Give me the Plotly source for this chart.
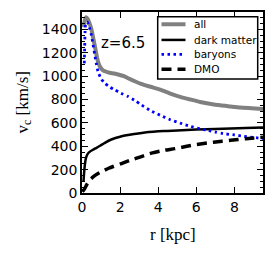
import plotly.graph_objects as go

# radius [kpc] and circular velocities [km/s]
r_all = [0.08, 0.15, 0.22, 0.3, 0.4, 0.49, 0.58, 0.67, 0.76, 0.84, 0.95, 1.1, 1.3, 1.46, 1.7, 1.9, 2.2, 2.42, 2.8, 3.1, 3.6, 4.1, 4.6, 5.16, 5.7, 6.2, 6.7, 7.26, 7.8, 8.3, 8.9, 9.5]
v_all = [1420, 1480, 1505, 1490, 1450, 1405, 1335, 1262, 1185, 1126, 1080, 1050, 1037, 1030, 1023, 1015, 1000, 983, 955, 935, 910, 886, 854, 823, 800, 780, 765, 751, 741, 732, 726, 720]

r_dm = [0.08, 0.1, 0.15, 0.2, 0.25, 0.3, 0.4, 0.55, 0.7, 0.84, 1.0, 1.2, 1.54, 2.0, 2.5, 3.3, 4.3, 5.0, 6.0, 7.0, 7.8, 8.6, 9.5]
v_dm = [100, 150, 240, 295, 320, 335, 352, 368, 382, 394, 410, 430, 458, 482, 498, 518, 531, 535, 543, 548, 552, 556, 560]

r_bar = [0.12, 0.14, 0.16, 0.2, 0.27, 0.35, 0.42, 0.49, 0.58, 0.67, 0.76, 0.84, 1.0, 1.19, 1.45, 1.72, 2.05, 2.42, 2.8, 3.12, 3.6, 4.1, 4.6, 5.16, 5.7, 6.2, 6.56, 7.0, 7.4, 8.0, 8.5, 9.0, 9.5]
v_bar = [1110, 1250, 1380, 1455, 1465, 1440, 1400, 1354, 1270, 1183, 1100, 1040, 980, 940, 908, 883, 855, 826, 790, 754, 705, 666, 630, 598, 570, 550, 537, 522, 509, 497, 486, 476, 466]

r_dmo = [0.02, 0.14, 0.25, 0.4, 0.6, 0.8, 1.0, 1.4, 2.07, 2.53, 3.12, 3.7, 4.28, 4.88, 5.5, 6.03, 6.9, 7.8, 8.6, 9.5]
v_dmo = [10, 38, 72, 109, 140, 162, 180, 212, 252, 280, 312, 344, 365, 380, 400, 415, 435, 452, 465, 477]

x_ticks = [0, 2, 4, 6, 8]
y_ticks = [0, 200, 400, 600, 800, 1000, 1200, 1400]

series_names = ["all", "dark matter", "baryons", "DMO"]
series_styles = [
    dict(color="#808080", width=4),
    dict(color="black", width=2.5),
    dict(color="#0000ff", width=2.8, dash="2.5px,3.5px"),
    dict(color="black", width=3.5, dash="10px,6px"),
]
series_data = [(r_all, v_all), (r_dm, v_dm), (r_bar, v_bar), (r_dmo, v_dmo)]

# page has an 8px body margin, so the figure is drawn 8px in from the window corner
OFF = 8
W, H = 275 - OFF, 256 - OFF
L, R, T, B = 82 - OFF, 12, 12 - OFF, 256 - 193.5
PW, PH = W - L - R, H - T - B


def px_x(x):
    # window pixel -> paper coordinate
    return (x - OFF - L) / PW


def px_y(y):
    return 1 - (y - OFF - T) / PH


fig = go.Figure()
for name, style, (xs, ys) in zip(series_names, series_styles, series_data):
    fig.add_trace(go.Scatter(x=xs, y=ys, mode="lines", name=name, showlegend=False,
                             line=dict(shape="spline", smoothing=0.6, **style)))

# legend box drawn as layout decoration
fig.add_shape(type="rect", xref="paper", yref="paper",
              x0=px_x(157.7), x1=px_x(257.7), y0=px_y(79.3), y1=px_y(16.7),
              line=dict(color="black", width=1.5), fillcolor="white", layer="above")
row_y = [24.3, 40.0, 54.5, 69.3]
for name, style, yy in zip(series_names, series_styles, row_y):
    fig.add_shape(type="line", xref="paper", yref="paper",
                  x0=px_x(161.5), x1=px_x(185.5), y0=px_y(yy), y1=px_y(yy),
                  line=style, layer="above")
    fig.add_annotation(text=name, xref="paper", yref="paper", x=px_x(191.5), y=px_y(yy),
                       xanchor="left", yanchor="middle", showarrow=False,
                       font=dict(size=10.5, family="DejaVu Sans", color="black"))

fig.add_annotation(text="z=6.5", xref="paper", yref="paper", x=px_x(123), y=px_y(43),
                   xanchor="center", yanchor="middle",
                   showarrow=False, font=dict(size=15, color="black", family="DejaVu Sans"))

fig.add_annotation(text="r [kpc]", xref="paper", yref="paper", x=0.5, y=px_y(235),
                   xanchor="center", yanchor="middle",
                   showarrow=False, font=dict(size=17, family="Liberation Serif", color="black"))
fig.add_annotation(text="v<sub>c</sub> [km/s]", xref="paper", yref="paper", x=px_x(23), y=0.5,
                   xanchor="center", yanchor="middle",
                   textangle=-90, showarrow=False,
                   font=dict(size=17, family="Liberation Serif", color="black"))

axis_common = dict(showgrid=False, zeroline=False, showline=True, linecolor="black",
                   linewidth=1.5, mirror="ticks", ticks="inside", tickcolor="black",
                   tickwidth=1, ticklen=6, automargin=False,
                   tickfont=dict(size=14, family="DejaVu Sans", color="black"))

fig.update_xaxes(range=[0, 9.5], tickvals=x_ticks, **axis_common)
fig.update_yaxes(range=[0, 1550], tickvals=y_ticks, **axis_common,
                 minor=dict(dtick=50, ticks="inside", ticklen=3, tickcolor="black", tickwidth=1))

fig.update_layout(
    width=W, height=H,
    margin=dict(l=L, r=R, t=T, b=B),
    paper_bgcolor="white", plot_bgcolor="white",
    showlegend=False,
)

fig.write_html("out.html")
